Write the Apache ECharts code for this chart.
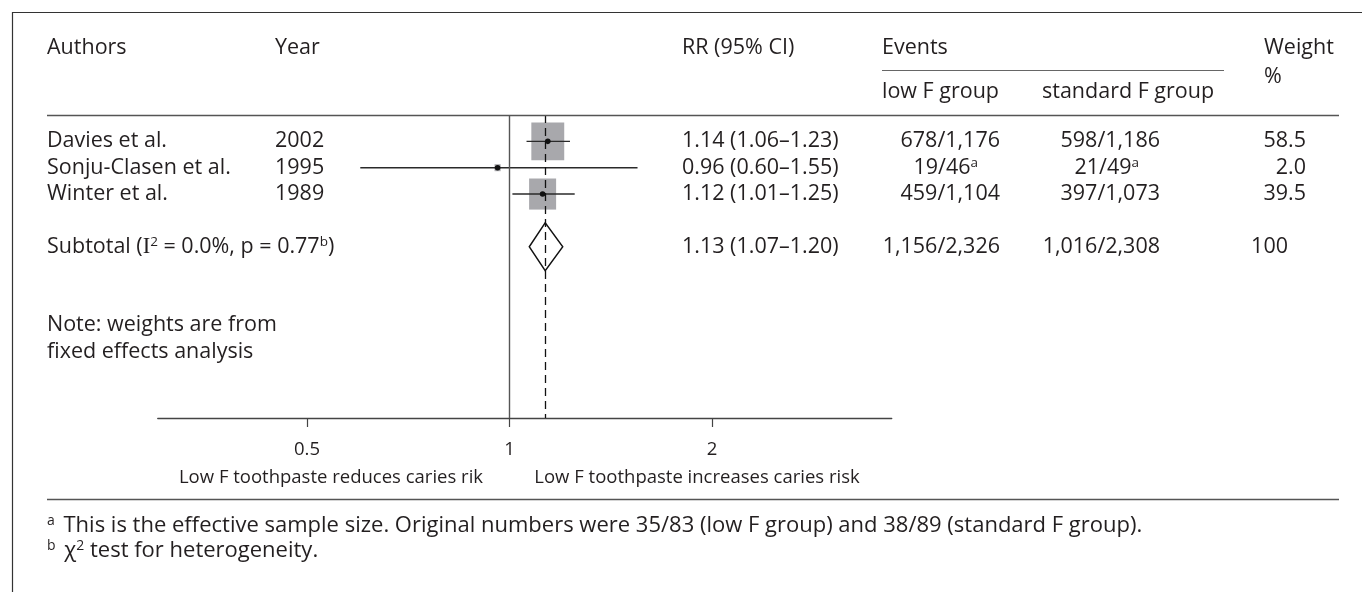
<!DOCTYPE html>
<html><head><meta charset="utf-8">
<script src="https://cdn.jsdelivr.net/npm/echarts@6/dist/echarts.min.js"></script>
<style>html,body{margin:0;padding:0;background:#fff}#c{width:1362px;height:592px}</style>
</head><body><div id="c"></div>
<script>
// ---------- data ----------
const authors = ['Davies et al.', 'Sonju-Clasen et al.', 'Winter et al.'];
const years = ['2002', '1995', '1989'];
const rr = [1.14, 0.96, 1.12];
const ciLow = [1.06, 0.60, 1.01];
const ciHigh = [1.23, 1.55, 1.25];
const eventsLowF = ['678/1,176', '19/46', '459/1,104'];
const eventsStdF = ['598/1,186', '21/49', '397/1,073'];
const eventsNote = ['', 'a', ''];
const weights = [58.5, 2.0, 39.5];
const pooled = [1.13, 1.07, 1.20];          // estimate, low, high
const pooledEvents = ['1,156/2,326', '1,016/2,308'];
const pooledWeight = ['100'];
const xTicks = [0.5, 1, 2];

// ---------- layout / style ----------
const FONT = '"Open Sans", "Noto Sans", sans-serif';
const SERIF = '"Liberation Serif", "DejaVu Serif", serif';
const TXT = '#231f20';
const FS = 21.5;
const pooledRow = authors.length + 1;

const chart = echarts.init(document.getElementById('c'), null, {renderer: 'canvas'});

const studyData = rr.map((v, i) => [i, v, ciLow[i], ciHigh[i], weights[i]]);

function renderStudy(params, api) {
  const y = api.value(0);
  const pE = api.coord([api.value(1), y]);
  const pL = api.coord([api.value(2), y]);
  const pH = api.coord([api.value(3), y]);
  const side = 4.3 * Math.sqrt(api.value(4));
  const bw = side, bh = side * 1.15;
  return {type: 'group', children: [
    {type: 'rect', shape: {x: pE[0] - bw / 2, y: pE[1] - bh / 2, width: bw, height: bh}, style: {fill: '#a8a8ac'}},
    {type: 'line', shape: {x1: pL[0], y1: pL[1], x2: pH[0], y2: pH[1]}, style: {stroke: '#2a2a2a', lineWidth: 1.4}},
    {type: 'circle', shape: {cx: pE[0], cy: pE[1], r: 2.8}, style: {fill: '#111'}}
  ]};
}
function renderPooled(params, api) {
  const y = api.value(0);
  const pE = api.coord([api.value(1), y]);
  const pL = api.coord([api.value(2), y]);
  const pH = api.coord([api.value(3), y]);
  const h = 24;
  return {type: 'polygon', shape: {points: [[pL[0], pL[1]], [pE[0], pE[1] - h], [pH[0], pH[1]], [pE[0], pE[1] + h]]},
    style: {fill: '#fff', stroke: '#111', lineWidth: 1.4}};
}

chart.setOption({
  animation: false,
  grid: {left: 157.8, right: 470.3, top: 115, bottom: 174, containLabel: false, outerBoundsMode: 'none'},
  xAxis: {
    type: 'log', logBase: 2, min: 0.3, max: 3.7,
    axisLine: {show: true, onZero: false, lineStyle: {color: '#444', width: 1.4}},
    axisTick: {show: true, customValues: xTicks, length: 9, lineStyle: {color: '#444', width: 1.2}},
    axisLabel: {show: true, customValues: xTicks, margin: 22, fontSize: 18.5, fontFamily: FONT, color: TXT,
      formatter: v => String(v)},
    splitLine: {show: false}, minorTick: {show: false}, minorSplitLine: {show: false}
  },
  yAxis: {type: 'value', inverse: true, min: -1, max: 10.5, show: false, splitLine: {show: false}},
  series: [
    {
      type: 'custom', name: 'studies', renderItem: renderStudy, data: studyData,
      encode: {x: [1, 2, 3], y: 0}, silent: true, z: 3,
      markLine: {
        silent: true, symbol: 'none', label: {show: false},
        data: [
          {xAxis: 1, lineStyle: {color: '#555', width: 1.4, type: 'solid'}},
          {xAxis: pooled[0], lineStyle: {color: '#111', width: 1.3, type: [8, 5]}}
        ]
      }
    },
    {
      type: 'custom', name: 'pooled', renderItem: renderPooled,
      data: [[pooledRow, pooled[0], pooled[1], pooled[2]]],
      encode: {x: [1, 2, 3], y: 0}, silent: true, z: 4
    }
  ]
});

// ---------- table text ----------
function rowY(r) { return chart.convertToPixel({yAxisIndex: 0}, r); }
function txt(text, x, y, align, opts) {
  opts = opts || {};
  return {type: 'text', silent: true, z: 10, style: Object.assign({
    text: text, x: x, y: y, fill: TXT, fontSize: opts.fs || FS, fontFamily: FONT,
    align: align || 'left', textAlign: align || 'left', verticalAlign: 'middle', textVerticalAlign: 'middle'
  }, opts.rich ? {rich: opts.rich} : {})};
}
function hline(x1, x2, y, color, w) {
  return {type: 'line', silent: true, z: 10, shape: {x1: x1, y1: y, x2: x2, y2: y}, style: {stroke: color, lineWidth: w}};
}
const supRich = {
  m: {fontSize: FS, fontFamily: FONT, fill: TXT, lineHeight: 24},
  s: {fontSize: 13.5, fontFamily: FONT, fill: TXT, verticalAlign: 'top', lineHeight: 11},
  i: {fontSize: FS + 1, fontFamily: SERIF, fill: TXT, lineHeight: 24}
};
const FN = 22;
const noteRich = {
  m: {fontSize: FN, fontFamily: FONT, fill: TXT, lineHeight: 24},
  s: {fontSize: 14, fontFamily: FONT, fill: TXT, verticalAlign: 'top', lineHeight: 11, padding: [0, 3, 0, 0]},
  t: {fontSize: 14, fontFamily: FONT, fill: TXT, verticalAlign: 'top', lineHeight: 11},
  c: {fontSize: FN, fontFamily: FONT, fill: TXT, lineHeight: 24}
};
const fmt = v => v.toFixed(2);

const g = [];
// frame and rules
g.push(hline(12, 1362, 12.5, '#333', 1.2));
g.push({type: 'line', silent: true, z: 10, shape: {x1: 12.5, y1: 12, x2: 12.5, y2: 592}, style: {stroke: '#333', lineWidth: 1.2}});
g.push(hline(882, 1224, 70.5, '#666', 1.1));
g.push(hline(47, 1339, 115.5, '#555', 1.3));
g.push(hline(47, 1339, 499.5, '#555', 1.3));

// headers
g.push(txt('Authors', 47, 48));
g.push(txt('Year', 275, 48));
g.push(txt('RR (95% CI)', 682, 48));
g.push(txt('Events', 882, 48));
g.push(txt('Weight', 1264, 48));
g.push(txt('%', 1264, 77));
g.push(txt('low F group', 882, 92));
g.push(txt('standard F group', 1042, 92));

// study rows
authors.forEach((a, i) => {
  const y = rowY(i);
  g.push(txt(a, 47, y));
  g.push(txt(years[i], 275, y));
  g.push(txt(fmt(rr[i]) + ' (' + fmt(ciLow[i]) + '\u2013' + fmt(ciHigh[i]) + ')', 682, y));
  const n = eventsNote[i];
  const lowTxt = n ? '{m|' + eventsLowF[i] + '}{s|' + n + '}' : eventsLowF[i];
  const stdTxt = n ? '{m|' + eventsStdF[i] + '}{s|' + n + '}' : eventsStdF[i];
  g.push(txt(lowTxt, n ? 978 : 1000, y, 'right', n ? {rich: supRich} : null));
  g.push(txt(stdTxt, n ? 1139 : 1160, y, 'right', n ? {rich: supRich} : null));
  g.push(txt(weights[i].toFixed(1), 1306, y, 'right'));
});

// pooled row
const py = rowY(pooledRow);
g.push(txt('{m|Subtotal (}{i|I}{s|2}{m| = 0.0%, p = 0.77}{s|b}{m|)}', 47, py, 'left', {rich: supRich}));
g.push(txt(fmt(pooled[0]) + ' (' + fmt(pooled[1]) + '\u2013' + fmt(pooled[2]) + ')', 682, py));
g.push(txt(pooledEvents[0], 1000, py, 'right'));
g.push(txt(pooledEvents[1], 1160, py, 'right'));
g.push(txt(pooledWeight[0], 1288, py, 'right'));

// note
g.push(txt('Note: weights are from', 47, 325));
g.push(txt('fixed effects analysis', 47, 352));

// axis captions
g.push(txt('Low F toothpaste reduces caries rik', 331, 478, 'center', {fs: 18.5}));
g.push(txt('Low F toothpaste increases caries risk', 697, 478, 'center', {fs: 18.5}));

// footnotes
g.push(txt('{s|a}{m| This is the effective sample size. Original numbers were 35/83 (low F group) and 38/89 (standard F group).}', 47, 526, 'left', {rich: noteRich}));
g.push(txt('{s|b}{m| }{c|\u03c7}{t|2}{m| test for heterogeneity.}', 47, 551, 'left', {rich: noteRich}));

chart.setOption({graphic: {elements: g}});
</script>
</body></html>
